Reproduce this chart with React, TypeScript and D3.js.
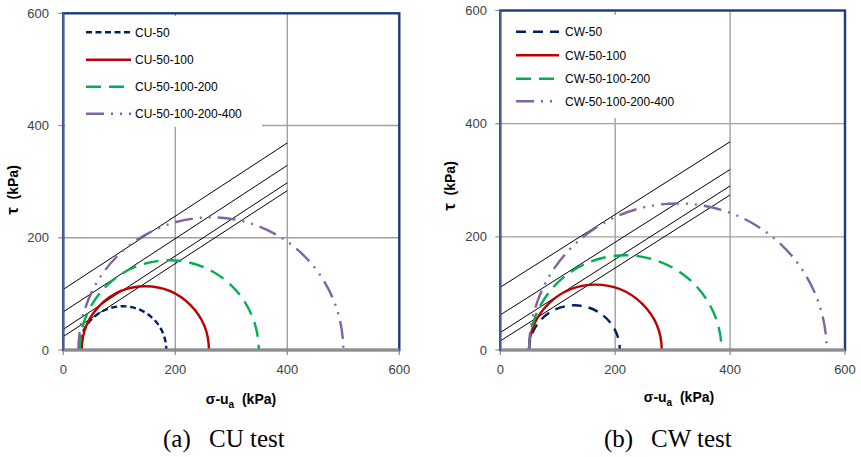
import { useEffect, useRef } from "react";
import * as d3 from "d3";

// Mohr circles: sigma3 (left end) and sigma1 (right end), kPa
const cuLabels = ["CU-50", "CU-50-100", "CU-50-100-200", "CU-50-100-200-400"];
const cuSigma3 = [28, 33, 29, 27];
const cuSigma1 = [184, 260, 349, 500];
// failure envelopes: tau at sigma=0 and at sigma=400
const cuEnvAt0 = [108, 68, 37, 24];
const cuEnvAt400 = [369, 329, 298, 284];

const cwLabels = ["CW-50", "CW-50-100", "CW-50-100-200", "CW-50-100-200-400"];
const cwSigma3 = [50, 50, 50, 50];
const cwSigma1 = [208, 281, 385, 568];
const cwEnvAt0 = [111, 62, 31, 16];
const cwEnvAt400 = [368, 319, 290, 274];

const ticks = [0, 200, 400, 600];

const colors = ["#002060", "#C00000", "#00B050", "#8064A2"];
const FONT = "'Liberation Sans', Arial, sans-serif";

const drawPanel = (svg, cfg) => {
  const x = d3.scaleLinear().domain([0, 600]).range([cfg.left, cfg.right]);
  const y = d3.scaleLinear().domain([0, 600]).range([cfg.bottom, cfg.top]);
  const g = svg.append("g");

  // grid
  ticks.slice(1, 3).forEach((t) => {
    g.append("line").attr("x1", x(t)).attr("x2", x(t)).attr("y1", y(0)).attr("y2", y(600))
      .attr("stroke", "#A0A0A0").attr("stroke-width", 1.4);
    g.append("line").attr("x1", x(0)).attr("x2", x(600)).attr("y1", y(t)).attr("y2", y(t))
      .attr("stroke", "#A0A0A0").attr("stroke-width", 1.4);
  });

  // legend box over grid
  g.append("rect").attr("x", cfg.legBox[0]).attr("y", cfg.legBox[1])
    .attr("width", cfg.legBox[2]).attr("height", cfg.legBox[3]).attr("fill", "#fff");

  // ticks
  ticks.forEach((t) => {
    g.append("line").attr("x1", x(0) - 5).attr("x2", x(0)).attr("y1", y(t)).attr("y2", y(t))
      .attr("stroke", "#8C8C8C").attr("stroke-width", 1.2);
    g.append("line").attr("x1", x(t)).attr("x2", x(t)).attr("y1", y(0)).attr("y2", y(0) + 5)
      .attr("stroke", "#8C8C8C").attr("stroke-width", 1.2);
    g.append("text").attr("x", cfg.yLabelX).attr("y", y(t)).attr("dy", "0.35em")
      .attr("text-anchor", "end").attr("font-family", FONT).attr("font-size", 13)
      .attr("fill", "#404040").text(t);
    g.append("text").attr("x", x(t)).attr("y", 369).attr("dy", "0.35em")
      .attr("text-anchor", "middle").attr("font-family", FONT).attr("font-size", 13)
      .attr("fill", "#404040").text(t);
  });

  // envelopes
  cfg.envAt0.forEach((c, i) => {
    g.append("line").attr("x1", x(0)).attr("y1", y(c)).attr("x2", x(400)).attr("y2", y(cfg.envAt400[i]))
      .attr("stroke", "#000").attr("stroke-width", 1);
  });

  // Mohr circles
  cfg.sigma3.forEach((s3, i) => {
    const s1 = cfg.sigma1[i];
    const r = (s1 - s3) / 2;
    const rx = (x(s1) - x(s3)) / 2;
    const ry = y(0) - y(r);
    g.append("path")
      .attr("d", `M${x(s3)},${y(0)} A${rx},${ry} 0 0 1 ${x(s1)},${y(0)}`)
      .attr("fill", "none").attr("stroke", colors[i]).attr("stroke-width", 2.4)
      .attr("stroke-dasharray", cfg.dashes[i]);
  });

  // frame + axis
  g.append("rect").attr("x", x(0)).attr("y", y(600)).attr("width", x(600) - x(0))
    .attr("height", y(0) - y(600)).attr("fill", "none").attr("stroke", "#1F3A78").attr("stroke-width", 2.4);
  g.append("line").attr("x1", x(0)).attr("x2", x(600)).attr("y1", y(0)).attr("y2", y(0))
    .attr("stroke", "#8C8C8C").attr("stroke-width", 3);
  g.append("line").attr("x1", x(0)).attr("x2", x(0)).attr("y1", y(0)).attr("y2", y(600))
    .attr("stroke", "#4A6090").attr("stroke-width", 1.5);

  // legend
  cfg.labels.forEach((lab, i) => {
    const ly = cfg.legRows[i];
    g.append("line").attr("x1", cfg.legLine[0]).attr("x2", cfg.legLine[1]).attr("y1", ly).attr("y2", ly)
      .attr("stroke", colors[i]).attr("stroke-width", 2.4).attr("stroke-dasharray", cfg.dashes[i]);
    g.append("text").attr("x", cfg.legText).attr("y", ly).attr("dy", "0.35em")
      .attr("font-family", FONT).attr("font-size", 12).attr("fill", "#000").text(lab);
  });

  // axis titles
  const yt = g.append("text")
    .attr("transform", `translate(${cfg.yTitle[0]},${cfg.yTitle[1]}) rotate(-90)`)
    .attr("text-anchor", "middle").attr("dy", "0.35em")
    .attr("font-family", FONT).attr("font-weight", "bold").attr("font-size", 14).attr("fill", "#000");
  yt.append("tspan").attr("font-size", 17).text("τ");
  yt.append("tspan").text("\u00a0\u00a0(kPa)");

  const xt = g.append("text").attr("x", cfg.xTitle[0]).attr("y", cfg.xTitle[1]).attr("dy", "0.35em")
    .attr("text-anchor", "middle").attr("font-family", FONT).attr("font-weight", "bold")
    .attr("font-size", 14).attr("fill", "#000");
  xt.append("tspan").text("σ-u");
  xt.append("tspan").attr("font-size", 10).attr("dy", 4).text("a");
  xt.append("tspan").attr("dy", -4).text("\u00a0\u00a0(kPa)");

  // caption
  const cap = g.append("text").attr("y", 447).attr("font-family", "'Liberation Serif', 'Times New Roman', serif")
    .attr("font-size", 25).attr("fill", "#000");
  cap.append("tspan").attr("x", cfg.caption[0]).text(cfg.caption[1]);
  cap.append("tspan").attr("x", cfg.caption[2]).text(cfg.caption[3]);
};

const App = () => {
  const ref = useRef(null);

  useEffect(() => {
    const svg = d3.select(ref.current);
    svg.selectAll("*").remove();

    drawPanel(svg, {
      left: 63.3, right: 399.3, top: 13.3, bottom: 350,
      sigma3: cuSigma3, sigma1: cuSigma1, envAt0: cuEnvAt0, envAt400: cuEnvAt400,
      labels: cuLabels,
      dashes: ["6,3.5", null, "15,8", "18,7,2,7,2,7"],
      legBox: [65, 16, 197, 111],
      legLine: [86, 131], legText: 135, legRows: [32.3, 59.7, 86.7, 113.7],
      yLabelX: 49, yTitle: [13, 190], xTitle: [241, 399],
      caption: [163, "(a)", 209, "CU test"],
    });

    drawPanel(svg, {
      left: 500.3, right: 845, top: 10.5, bottom: 350,
      sigma3: cwSigma3, sigma1: cwSigma1, envAt0: cwEnvAt0, envAt400: cwEnvAt400,
      labels: cwLabels,
      dashes: ["10,7", null, "15,8", "18,7,2,7,2,7"],
      legBox: [502, 15, 188, 103],
      legLine: [516, 559], legText: 565, legRows: [31.7, 55.3, 78.7, 101.3],
      yLabelX: 487, yTitle: [450, 186], xTitle: [679, 397],
      caption: [604, "(b)", 651, "CW test"],
    });
  }, []);

  return (
    <svg
      ref={ref}
      width={861}
      height={457}
      style={{ position: "absolute", left: 0, top: 0, background: "#fff" }}
    />
  );
};

export default App;
